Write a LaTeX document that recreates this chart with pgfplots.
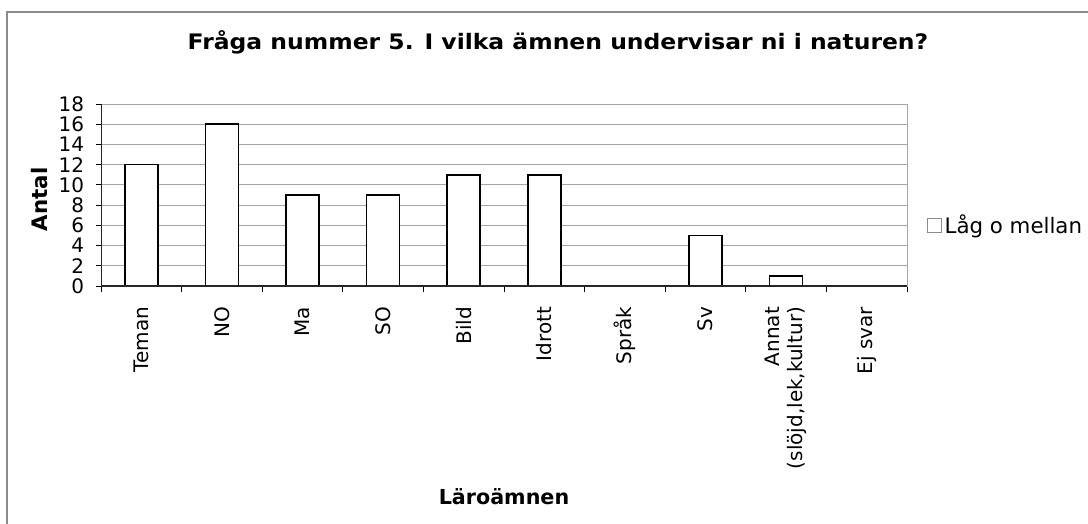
\documentclass[border=0pt]{standalone}
\usepackage{pgfplots}
\pgfplotsset{compat=1.18}
\usepackage{fontspec}
\setmainfont{DejaVu Sans}

\definecolor{gridgray}{HTML}{A6A6A6}
\definecolor{framegray}{HTML}{8C8C8C}

\begin{document}
\begin{tikzpicture}
\useasboundingbox (0pt,0pt) rectangle (816pt,-393pt);
% outer chart frame (top and left visible)
\draw[framegray, line width=0.9pt] (5.25pt,-393pt) -- (5.25pt,-9pt) -- (816pt,-9pt);

\node[font=\fontsize{16}{19}\selectfont\bfseries] at (418.5pt,-31.5pt)
  {\scalebox{1.1}[1]{Fråga nummer 5. I vilka ämnen undervisar ni i naturen?}};
\node[font=\fontsize{16}{19}\selectfont\bfseries, rotate=90] at (30pt,-149.6pt) {Antal};
\node[font=\fontsize{15.5}{18}\selectfont\bfseries] at (378pt,-372.75pt) {Läroämnen};

\begin{axis}[
  at={(75.75pt,-214.5pt)}, anchor=south west,
  scale only axis,
  width=604.5pt, height=136.5pt,
  xmin=-0.5, xmax=9.5,
  ymin=0, ymax=18,
  ytick={0,2,...,18},
  xtick={0,...,9},
  xticklabels={Teman,NO,Ma,SO,Bild,Idrott,Språk,Sv,{Annat\\(slöjd,lek,kultur)},Ej svar},
  minor xtick={-0.5,0.5,...,9.5},
  major x tick style={draw=none},
  tick align=outside,
  tick style={black, line width=0.6pt},
  major tick length=3.5pt,
  minor tick length=4.5pt,
  xtick pos=bottom, ytick pos=left,
  ymajorgrids,
  grid style={gridgray, line width=0.6pt},
  axis line style={gridgray, line width=0.75pt},
  ticklabel style={font=\fontsize{15}{17.5}\selectfont},
  /pgf/number format/assume math mode=true,
  xticklabel style={rotate=90, anchor=east, align=right, inner sep=0pt},
  xticklabel shift=12pt,
  yticklabel style={inner sep=0pt},
  yticklabel shift=9pt,
  legend style={at={(1,0.335)}, anchor=west, xshift=15pt, draw=none, fill=none,
    font=\fontsize{16}{19}\selectfont, inner sep=0pt},
  legend image code/.code={\draw[framegray, fill=white, line width=0.5pt] (0pt,-5.2pt) rectangle (10.5pt,5.2pt);},
]
\addplot[ybar, bar width=24.75pt, fill=white, draw=black, line width=1.1pt]
  coordinates {(0,12) (1,16) (2,9) (3,9) (4,11) (5,11) (6,0) (7,5) (8,1) (9,0)};
\addlegendentry{Låg o mellan}
\draw[black!85, line width=0.9pt] (rel axis cs:0,1) -- (rel axis cs:0,0) -- (rel axis cs:1,0);
\end{axis}
\end{tikzpicture}
\end{document}
